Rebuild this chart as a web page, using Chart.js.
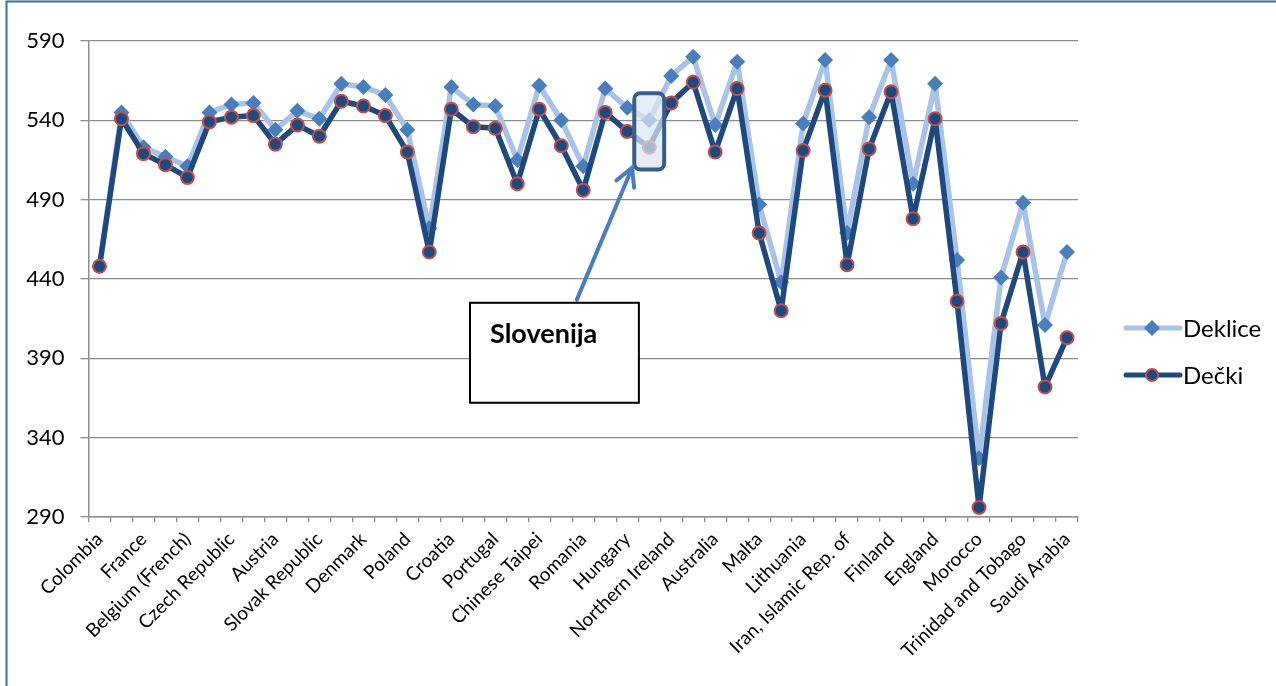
<!DOCTYPE html>
<html>
<head>
<meta charset="utf-8">
<script src="https://cdn.jsdelivr.net/npm/chart.js@4.4.1/dist/chart.umd.min.js"></script>
<style>
  html, body { margin: 0; padding: 0; background: #fff; }
  #wrap { position: relative; width: 1276px; height: 686px; }
</style>
</head>
<body>
<div id="wrap"><canvas id="chart"></canvas></div>
<script>
// ── Data (PIRLS-style scores, girls vs boys) ────────────────────────────────
const COUNTRIES = [
  'Colombia', 'Italy', 'France', 'Spain', 'Belgium (French)', 'Netherlands',
  'Czech Republic', 'Germany', 'Austria', 'Israel', 'Slovak Republic',
  'United States', 'Denmark', 'Canada', 'Poland', 'Azerbaijan', 'Croatia',
  'Sweden', 'Portugal', 'Norway', 'Chinese Taipei', 'Bulgaria', 'Romania',
  'Ireland', 'Hungary', 'Slovenia', 'Northern Ireland', 'Hong Kong SAR',
  'Australia', 'Russian Federation', 'Malta', 'Indonesia', 'Lithuania',
  'Singapore', 'Iran, Islamic Rep. of', 'New Zealand', 'Finland', 'Georgia',
  'England', 'United Arab Emirates', 'Morocco', 'Qatar', 'Trinidad and Tobago',
  'Oman', 'Saudi Arabia'
];

const DEKLICE = [
  448, 545, 523, 517, 511, 545, 550, 551, 534, 546, 541,
  563, 561, 556, 534, 472, 561, 550, 549, 515, 562, 540,
  511, 560, 548, 540, 568, 580, 537, 577, 487, 438, 538,
  578, 469, 542, 578, 500, 563, 452, 327, 441, 488, 411, 457
];

const DECKI = [
  448, 541, 519, 512, 504, 539, 542, 543, 525, 537, 530,
  552, 549, 543, 520, 457, 547, 536, 535, 500, 547, 524,
  496, 545, 533, 523, 551, 564, 520, 560, 469, 420, 521,
  559, 449, 522, 558, 478, 541, 426, 296, 412, 457, 372, 403
];

const Y_MIN = 290, Y_MAX = 590, Y_STEP = 50;

// ── Colours ─────────────────────────────────────────────────────────────────
const LIGHT_LINE = '#A9C2E7';
const DIAMOND    = '#4A7EBB';
const DARK_LINE  = '#1F497D';
const RED_RING   = '#C0504D';
const GRID       = '#8C8C8C';
const FONT       = 'Lato, "Open Sans", sans-serif';

// Annotation placed in data units (index, value)
const NOTE = {
  label: 'Slovenija',
  target: 25,
  hiTop: 557, hiBottom: 509, hiHalf: 0.68,
  boxLeft: 16.85, boxRight: 24.53, boxTop: 425, boxBottom: 362,
  arrowFrom: [21.71, 427], arrowTo: [24.22, 510]
};

// ── Plugins ─────────────────────────────────────────────────────────────────
const framePlugin = {
  id: 'frame',
  beforeDraw(chart) {
    const c = chart.ctx;
    c.save();
    c.fillStyle = '#fff';
    c.fillRect(0, 0, chart.width, chart.height);
    c.strokeStyle = '#3F6AA0';
    c.lineWidth = 2;
    c.beginPath();
    c.moveTo(6.5, chart.height + 5);
    c.lineTo(6.5, 1.5);
    c.lineTo(chart.width + 5, 1.5);
    c.stroke();
    c.restore();
  }
};

const notePlugin = {
  id: 'note',
  afterDatasetsDraw(chart) {
    const { ctx: c, scales: { x, y } } = chart;
    c.save();

    // highlight around Slovenia
    const hx1 = x.getPixelForValue(NOTE.target - NOTE.hiHalf);
    const hx2 = x.getPixelForValue(NOTE.target + NOTE.hiHalf);
    const hy1 = y.getPixelForValue(NOTE.hiTop);
    const hy2 = y.getPixelForValue(NOTE.hiBottom);
    c.beginPath();
    c.roundRect(hx1, hy1, hx2 - hx1, hy2 - hy1, 6);
    c.fillStyle = 'rgba(220,230,242,0.72)';
    c.fill();
    c.lineWidth = 4;
    c.strokeStyle = '#385D8A';
    c.stroke();

    // arrow
    const ax1 = x.getPixelForValue(NOTE.arrowFrom[0]), ay1 = y.getPixelForValue(NOTE.arrowFrom[1]);
    const ax2 = x.getPixelForValue(NOTE.arrowTo[0]),   ay2 = y.getPixelForValue(NOTE.arrowTo[1]);
    const ang = Math.atan2(ay2 - ay1, ax2 - ax1);
    c.strokeStyle = DIAMOND;
    c.lineWidth = 4;
    c.lineCap = 'round';
    c.beginPath();
    c.moveTo(ax1, ay1);
    c.lineTo(ax2, ay2);
    c.stroke();
    c.beginPath();
    c.moveTo(ax2 - 20 * Math.cos(ang - 0.5), ay2 - 20 * Math.sin(ang - 0.5));
    c.lineTo(ax2, ay2);
    c.lineTo(ax2 - 20 * Math.cos(ang + 0.5), ay2 - 20 * Math.sin(ang + 0.5));
    c.stroke();

    // text box
    const bx1 = x.getPixelForValue(NOTE.boxLeft),  bx2 = x.getPixelForValue(NOTE.boxRight);
    const by1 = y.getPixelForValue(NOTE.boxTop),   by2 = y.getPixelForValue(NOTE.boxBottom);
    c.fillStyle = '#fff';
    c.fillRect(bx1, by1, bx2 - bx1, by2 - by1);
    c.lineWidth = 2;
    c.strokeStyle = '#000';
    c.strokeRect(bx1, by1, bx2 - bx1, by2 - by1);
    c.fillStyle = '#000';
    c.font = 'bold 27px ' + FONT;
    c.textBaseline = 'alphabetic';
    c.fillText(NOTE.label, bx1 + 20, by1 + 40);
    c.restore();
  }
};

const legendPlugin = {
  id: 'sideLegend',
  afterDraw(chart) {
    const c = chart.ctx;
    const rows = [
      { text: 'Deklice', y: 328, line: LIGHT_LINE, kind: 'diamond' },
      { text: 'Dečki',   y: 375, line: DARK_LINE,  kind: 'circle' }
    ];
    c.save();
    rows.forEach(r => {
      c.strokeStyle = r.line;
      c.lineWidth = 5;
      c.lineCap = 'round';
      c.beginPath();
      c.moveTo(1126, r.y);
      c.lineTo(1180, r.y);
      c.stroke();
      if (r.kind === 'diamond') {
        c.fillStyle = DIAMOND;
        c.beginPath();
        c.moveTo(1152, r.y - 8);
        c.lineTo(1160, r.y);
        c.lineTo(1152, r.y + 8);
        c.lineTo(1144, r.y);
        c.closePath();
        c.fill();
      } else {
        c.fillStyle = DARK_LINE;
        c.strokeStyle = RED_RING;
        c.lineWidth = 2;
        c.beginPath();
        c.arc(1152, r.y, 6, 0, Math.PI * 2);
        c.fill();
        c.stroke();
      }
      c.fillStyle = '#000';
      c.font = '24px ' + FONT;
      c.textBaseline = 'middle';
      c.fillText(r.text, 1183, r.y + 1);
    });
    c.restore();
  }
};

// ── Chart ───────────────────────────────────────────────────────────────────
new Chart(document.getElementById('chart'), {
  type: 'line',
  data: {
    labels: COUNTRIES,
    datasets: [
      {
        label: 'Deklice',
        data: DEKLICE,
        order: 1,
        borderColor: LIGHT_LINE,
        borderWidth: 5.5,
        borderJoinStyle: 'round',
        pointStyle: 'rectRot',
        pointRadius: 8,
        pointBackgroundColor: DIAMOND,
        pointBorderColor: DIAMOND,
        pointBorderWidth: 0,
        tension: 0
      },
      {
        label: 'Dečki',
        data: DECKI,
        order: 0,
        borderColor: DARK_LINE,
        borderWidth: 5.5,
        borderJoinStyle: 'round',
        pointStyle: 'circle',
        pointRadius: 6.5,
        pointBackgroundColor: DARK_LINE,
        pointBorderColor: RED_RING,
        pointBorderWidth: 2,
        tension: 0
      }
    ]
  },
  options: {
    responsive: true,
    maintainAspectRatio: false,
    animation: false,
    events: [],
    layout: { padding: { left: 0, right: 198, top: 41, bottom: 0 } },
    plugins: {
      legend: { display: false },
      tooltip: { enabled: false }
    },
    scales: {
      x: {
        offset: true,
        grid: { offset: true, drawOnChartArea: false, drawTicks: true, tickLength: 5, color: GRID, lineWidth: 1.3 },
        border: { color: GRID, width: 1.5 },
        ticks: {
          autoSkip: false,
          minRotation: 45,
          maxRotation: 45,
          padding: 6,
          color: '#000',
          font: { family: FONT, size: 19 },
          callback: (v, i) => (i % 2 === 0 ? COUNTRIES[i] : '')
        },
        afterFit(scale) { scale.height = 169; }
      },
      y: {
        min: Y_MIN,
        max: Y_MAX,
        grid: { color: GRID, lineWidth: 1.3, tickLength: 8 },
        border: { color: GRID, width: 1.5 },
        ticks: {
          stepSize: Y_STEP,
          padding: 16,
          color: '#000',
          font: { family: FONT, size: 22 }
        },
        afterFit(scale) { scale.width = 88.5; }
      }
    }
  },
  plugins: [framePlugin, notePlugin, legendPlugin]
});
</script>
</body>
</html>
